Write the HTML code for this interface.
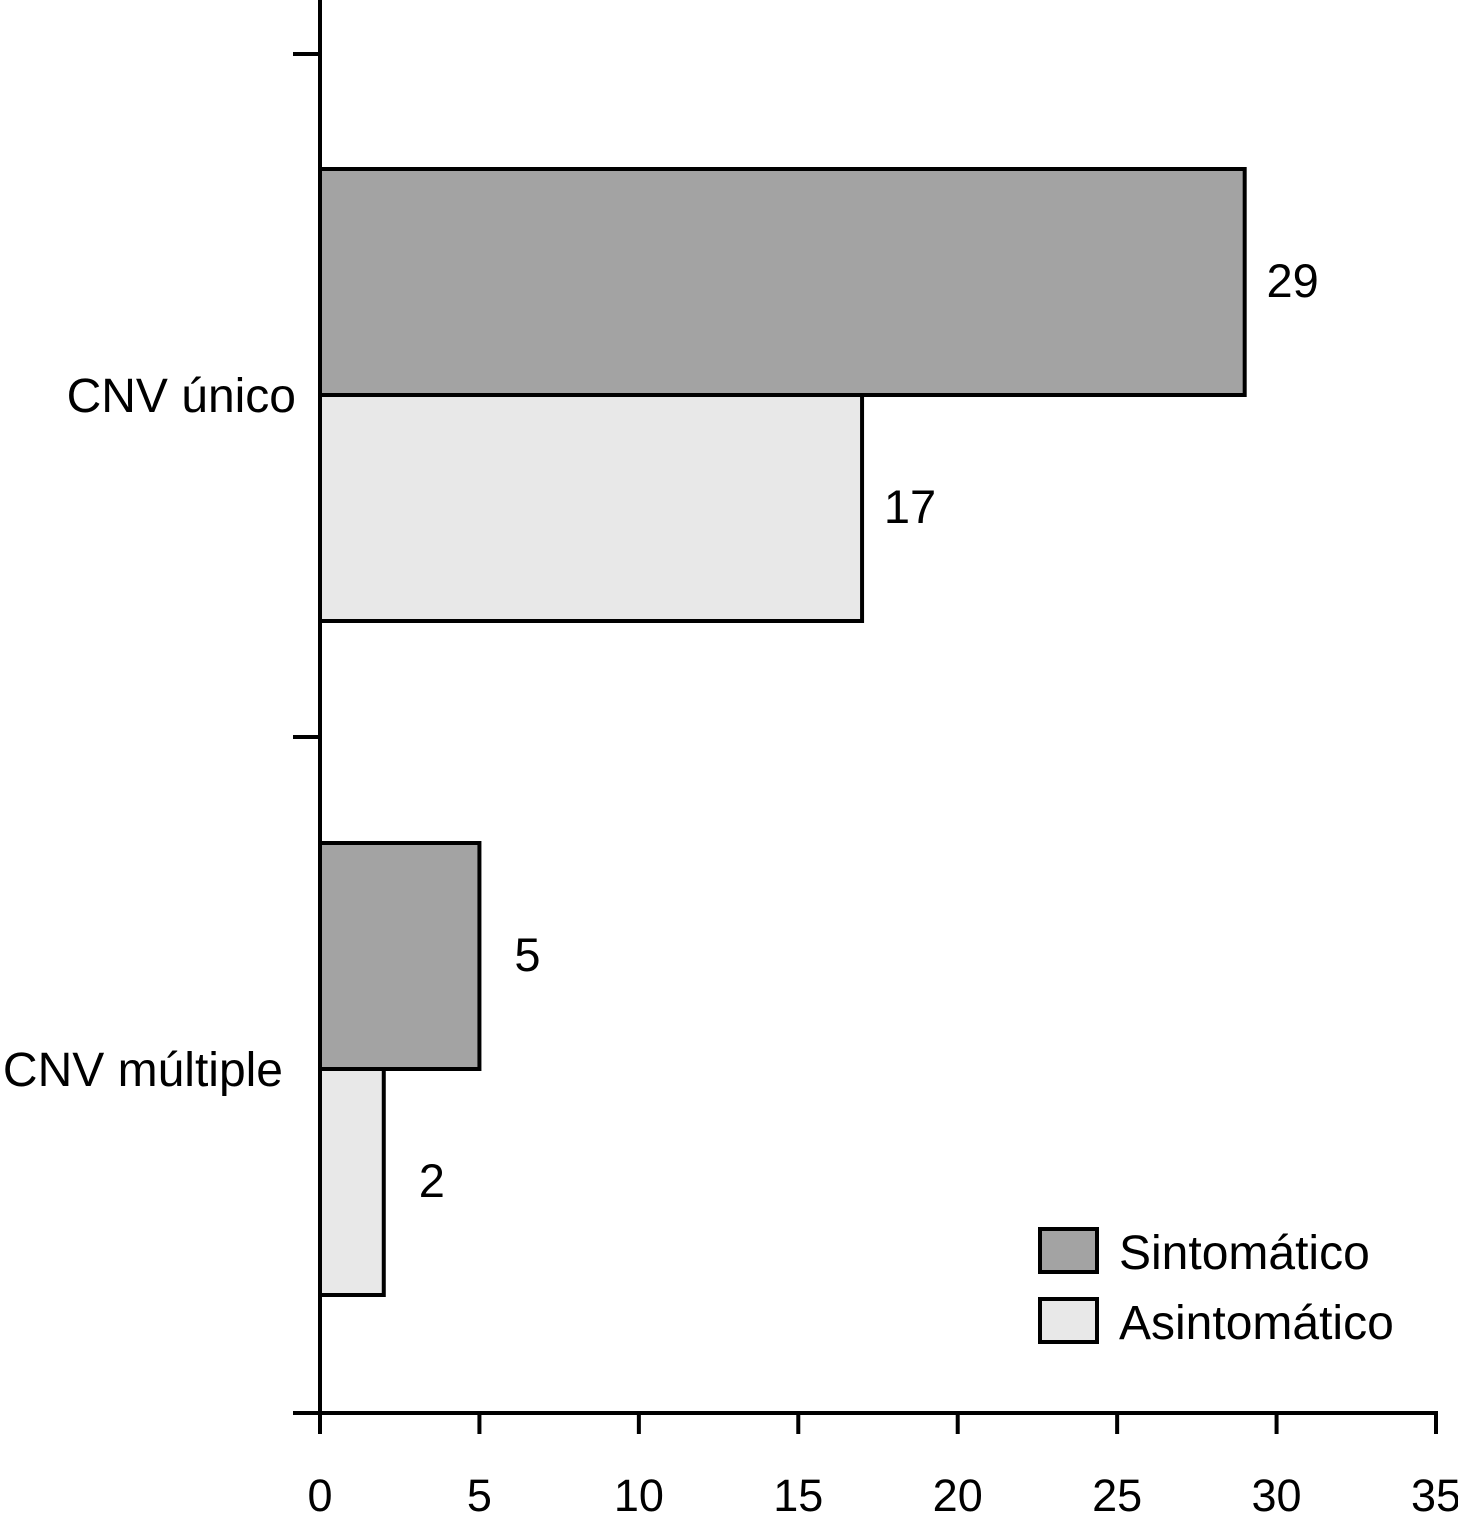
<!DOCTYPE html>
<html><head><meta charset="utf-8"><style>
html,body{margin:0;padding:0;background:#fff;}
svg{display:block;font-family:"Liberation Sans",Arial,sans-serif;}
</style></head><body>
<svg id="chart" width="1458" height="1533" viewBox="0 0 1458 1533"></svg>
<script>
const categories = ["CNV único", "CNV múltiple"];
const sintomatico = [29, 5];
const asintomatico = [17, 2];
const xTicks = [0, 5, 10, 15, 20, 25, 30, 35];
const seriesNames = ["Sintomático", "Asintomático"];

const NS = "http://www.w3.org/2000/svg";
const svg = document.getElementById("chart");
const x0 = 320, xUnit = (1436 - 320) / 35;
const xs = v => x0 + v * xUnit;
const bandTop = [169, 843];
const barH = 226;
function el(tag, attrs, text) {
  const e = document.createElementNS(NS, tag);
  for (const k in attrs) e.setAttribute(k, attrs[k]);
  if (text !== undefined) e.textContent = text;
  svg.appendChild(e);
  return e;
}
const colors = ["#a3a3a3", "#e8e8e8"];
const series = [sintomatico, asintomatico];
categories.forEach((c, i) => {
  series.forEach((s, j) => {
    const y = bandTop[i] + j * barH;
    const r = el("rect", {x: x0, y: y, width: xs(s[i]) - x0, height: barH, fill: colors[j], stroke: "#000", "stroke-width": 4});
    
    
    const t = el("text", {x: xs(s[i]) + 48, y: y + barH / 2 + 15, "font-size": 47, "text-anchor": "middle"}, String(s[i]));
    
    
  });
  const lbl = el("text", {x: i ? 283 : 296, y: bandTop[i] + barH + 17, "font-size": 48, "text-anchor": "end"}, c);
  
  
});
const ya = el("line", {x1: x0, y1: 0, x2: x0, y2: 1415, stroke: "#000", "stroke-width": 4});


[54, 737, 1413].forEach(y => {
  const t = el("line", {x1: 293, y1: y, x2: x0, y2: y, stroke: "#000", "stroke-width": 4});
  
  
});
const xa = el("line", {x1: x0, y1: 1413, x2: 1438, y2: 1413, stroke: "#000", "stroke-width": 4});


xTicks.forEach(v => {
  const t = el("line", {x1: xs(v), y1: 1413, x2: xs(v), y2: 1434, stroke: "#000", "stroke-width": 4});
  
  
  const l = el("text", {x: xs(v), y: 1511, "font-size": 45, "text-anchor": "middle"}, String(v));
  
  
});
seriesNames.forEach((n, j) => {
  const y = 1229 + j * 70;
  const r = el("rect", {x: 1040, y: y, width: 57, height: 43, fill: colors[j], stroke: "#000", "stroke-width": 4});
  
  
  const t = el("text", {x: 1119, y: y + 40, "font-size": 48}, n);
  
  
});
</script>
</body></html>
